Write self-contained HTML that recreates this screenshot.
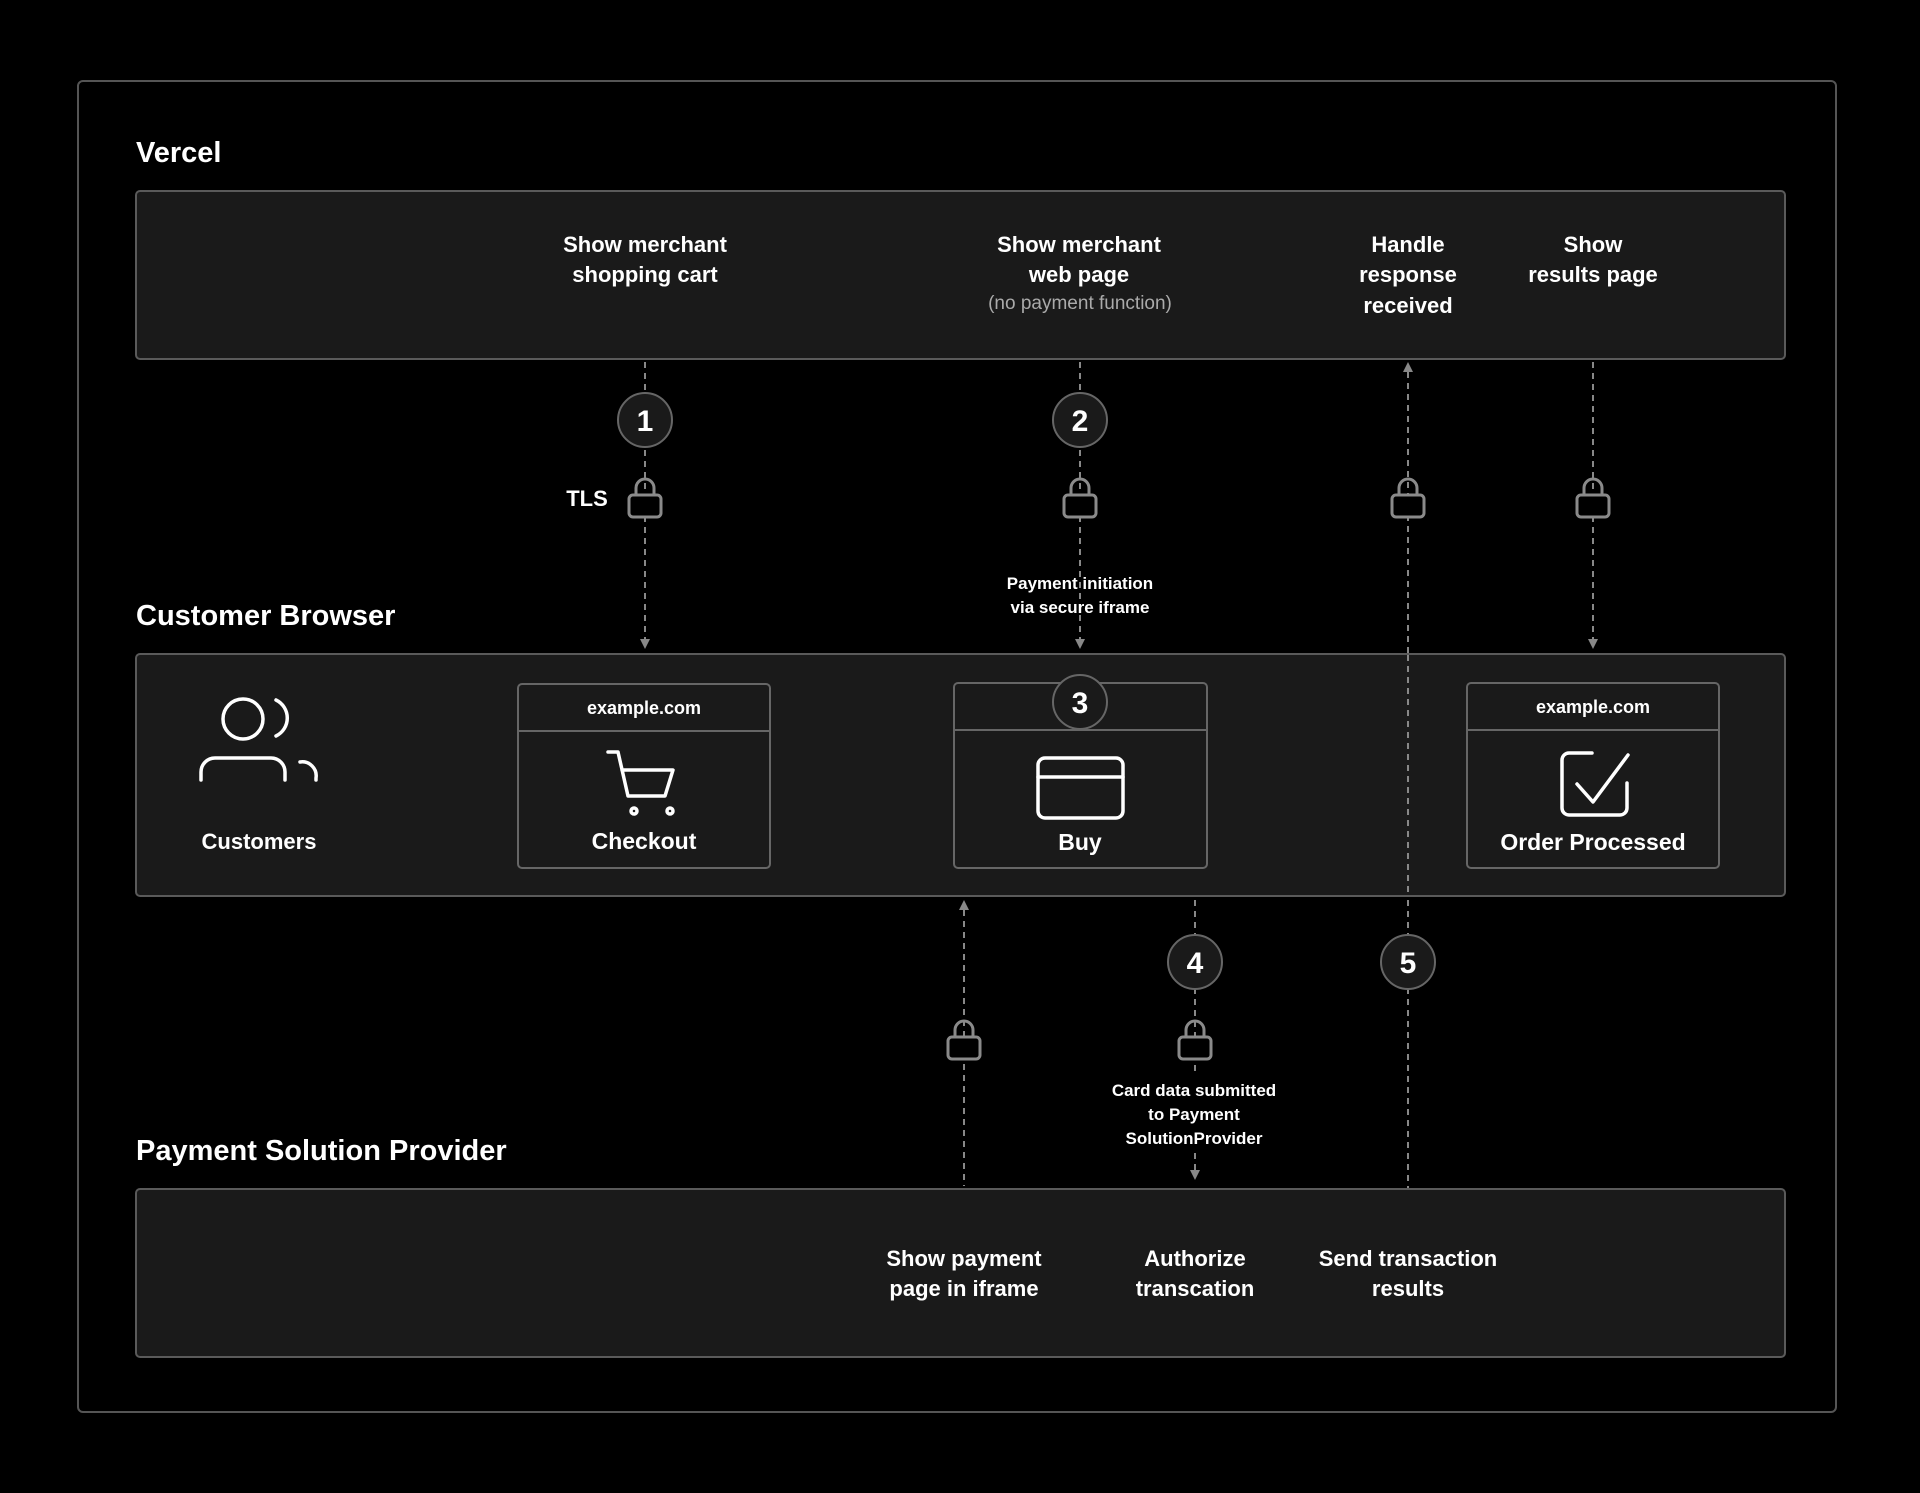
<!DOCTYPE html>
<html><head><meta charset="utf-8"><style>
html,body{margin:0;padding:0;background:#000;}
svg{display:block}
text{font-family:"Liberation Sans",sans-serif;fill:#fff;}
.b{font-weight:bold}
</style></head><body>
<svg width="1920" height="1493" viewBox="0 0 1920 1493" xmlns="http://www.w3.org/2000/svg">
<defs>
<g id="lock"><path d="M-9,-7 V-14 A9,9 0 0 1 9,-14 V-7" fill="none" stroke="#8a8a8a" stroke-width="3"/><rect x="-16" y="-7" width="32" height="22" rx="4" fill="#000" stroke="#8a8a8a" stroke-width="3"/></g>
</defs>
<rect x="78" y="81" width="1758" height="1331" rx="5" fill="#000" stroke="#555" stroke-width="2"/>

<text class="b" x="136" y="162" font-size="29">Vercel</text>
<rect x="136" y="191" width="1649" height="168" rx="4" fill="#1a1a1a" stroke="#5a5a5a" stroke-width="2"/>
<g class="b" font-size="22" text-anchor="middle">
<text x="645" y="252">Show merchant</text><text x="645" y="282">shopping cart</text>
<text x="1079" y="252">Show merchant</text><text x="1079" y="282">web page</text>
<text x="1408" y="252">Handle</text><text x="1408" y="282">response</text><text x="1408" y="313">received</text>
<text x="1593" y="252">Show</text><text x="1593" y="282">results page</text>
</g>
<text x="1080" y="309" font-size="19" text-anchor="middle" style="fill:#aaa">(no payment function)</text>

<g stroke="#888" stroke-width="2" stroke-dasharray="6,5" fill="none">
<line x1="645" y1="362" x2="645" y2="640"/>
<line x1="1080" y1="362" x2="1080" y2="640"/>
<line x1="1593" y1="362" x2="1593" y2="640"/>
<line x1="1408" y1="372" x2="1408" y2="1188"/>
<line x1="964" y1="910" x2="964" y2="1186"/>
<line x1="1195" y1="900" x2="1195" y2="1170"/>
</g>
<g fill="#888">
<path d="M640,639 L650,639 L645,649Z"/><path d="M1075,639 L1085,639 L1080,649Z"/><path d="M1588,639 L1598,639 L1593,649Z"/>
<path d="M1403,372 L1413,372 L1408,362Z"/><path d="M959,910 L969,910 L964,900Z"/><path d="M1190,1170 L1200,1170 L1195,1180Z"/>
</g>

<text class="b" x="136" y="625" font-size="29">Customer Browser</text>
<rect x="136" y="654" width="1649" height="242" rx="4" fill="#1a1a1a" stroke="#5a5a5a" stroke-width="2"/>
<line x1="1408" y1="655" x2="1408" y2="895" stroke="#888" stroke-width="2" stroke-dasharray="6,5"/>

<g class="b" font-size="17" text-anchor="middle"><text x="1080" y="589">Payment initiation</text><text x="1080" y="613">via secure iframe</text></g>
<text class="b" x="587" y="506" font-size="22" text-anchor="middle">TLS</text>

<g fill="none" stroke="#fff" stroke-width="3.5" stroke-linecap="round">
<circle cx="243" cy="719" r="20"/>
<path d="M201,780 V772 A14,14 0 0 1 215,758 H271 A14,14 0 0 1 285,772 V780"/>
<path d="M276,700 A20,20 0 0 1 276,736"/>
<path d="M300,762 A14,14 0 0 1 316,778 V780"/>
</g>
<text class="b" x="259" y="849" font-size="22" text-anchor="middle">Customers</text>

<g fill="#1a1a1a" stroke="#666" stroke-width="2">
<rect x="518" y="684" width="252" height="184" rx="4"/><line x1="518" y1="731" x2="770" y2="731"/>
<rect x="954" y="683" width="253" height="185" rx="4"/><line x1="954" y1="730" x2="1207" y2="730"/>
<rect x="1467" y="683" width="252" height="185" rx="4"/><line x1="1467" y1="730" x2="1719" y2="730"/>
</g>
<g class="b" font-size="18" text-anchor="middle"><text x="644" y="714">example.com</text><text x="1593" y="713">example.com</text></g>
<g class="b" font-size="23" text-anchor="middle"><text x="644" y="849">Checkout</text><text x="1080" y="850">Buy</text><text x="1593" y="850">Order Processed</text></g>
<g fill="none" stroke="#fff" stroke-width="3.5" stroke-linecap="round" stroke-linejoin="round">
<path d="M608,752 H618 L628,796 H665 L673,770 H622"/>
<circle cx="634" cy="811" r="3"/><circle cx="670" cy="811" r="3"/>
<rect x="1038" y="758" width="85" height="60" rx="7"/><line x1="1038" y1="777" x2="1123" y2="777"/>
<path d="M1592,753 H1569 A7,7 0 0 0 1562,760 V808 A7,7 0 0 0 1569,815 H1620 A7,7 0 0 0 1627,808 V783"/>
<path d="M1577,784 L1593,802 L1628,755"/>
</g>

<g stroke="#666" stroke-width="2" fill="#1a1a1a">
<circle cx="645" cy="420" r="27"/><circle cx="1080" cy="420" r="27"/><circle cx="1080" cy="702" r="27"/>
<circle cx="1195" cy="962" r="27"/><circle cx="1408" cy="962" r="27"/>
</g>
<g class="b" font-size="30" text-anchor="middle">
<text x="645" y="431">1</text><text x="1080" y="431">2</text><text x="1080" y="713">3</text><text x="1195" y="973">4</text><text x="1408" y="973">5</text>
</g>

<use href="#lock" x="645" y="502"/><use href="#lock" x="1080" y="502"/><use href="#lock" x="1408" y="502"/><use href="#lock" x="1593" y="502"/>
<use href="#lock" x="964" y="1044"/><use href="#lock" x="1195" y="1044"/>

<g class="b" font-size="17" text-anchor="middle"><rect x="1100" y="1074" width="190" height="76" fill="#000"/>
<text x="1194" y="1096">Card data submitted</text><text x="1194" y="1120">to Payment</text><text x="1194" y="1144">SolutionProvider</text></g>

<text class="b" x="136" y="1160" font-size="29">Payment Solution Provider</text>
<rect x="136" y="1189" width="1649" height="168" rx="4" fill="#1a1a1a" stroke="#5a5a5a" stroke-width="2"/>
<g class="b" font-size="22" text-anchor="middle">
<text x="964" y="1266">Show payment</text><text x="964" y="1296">page in iframe</text>
<text x="1195" y="1266">Authorize</text><text x="1195" y="1296">transcation</text>
<text x="1408" y="1266">Send transaction</text><text x="1408" y="1296">results</text>
</g>
</svg>
</body></html>
